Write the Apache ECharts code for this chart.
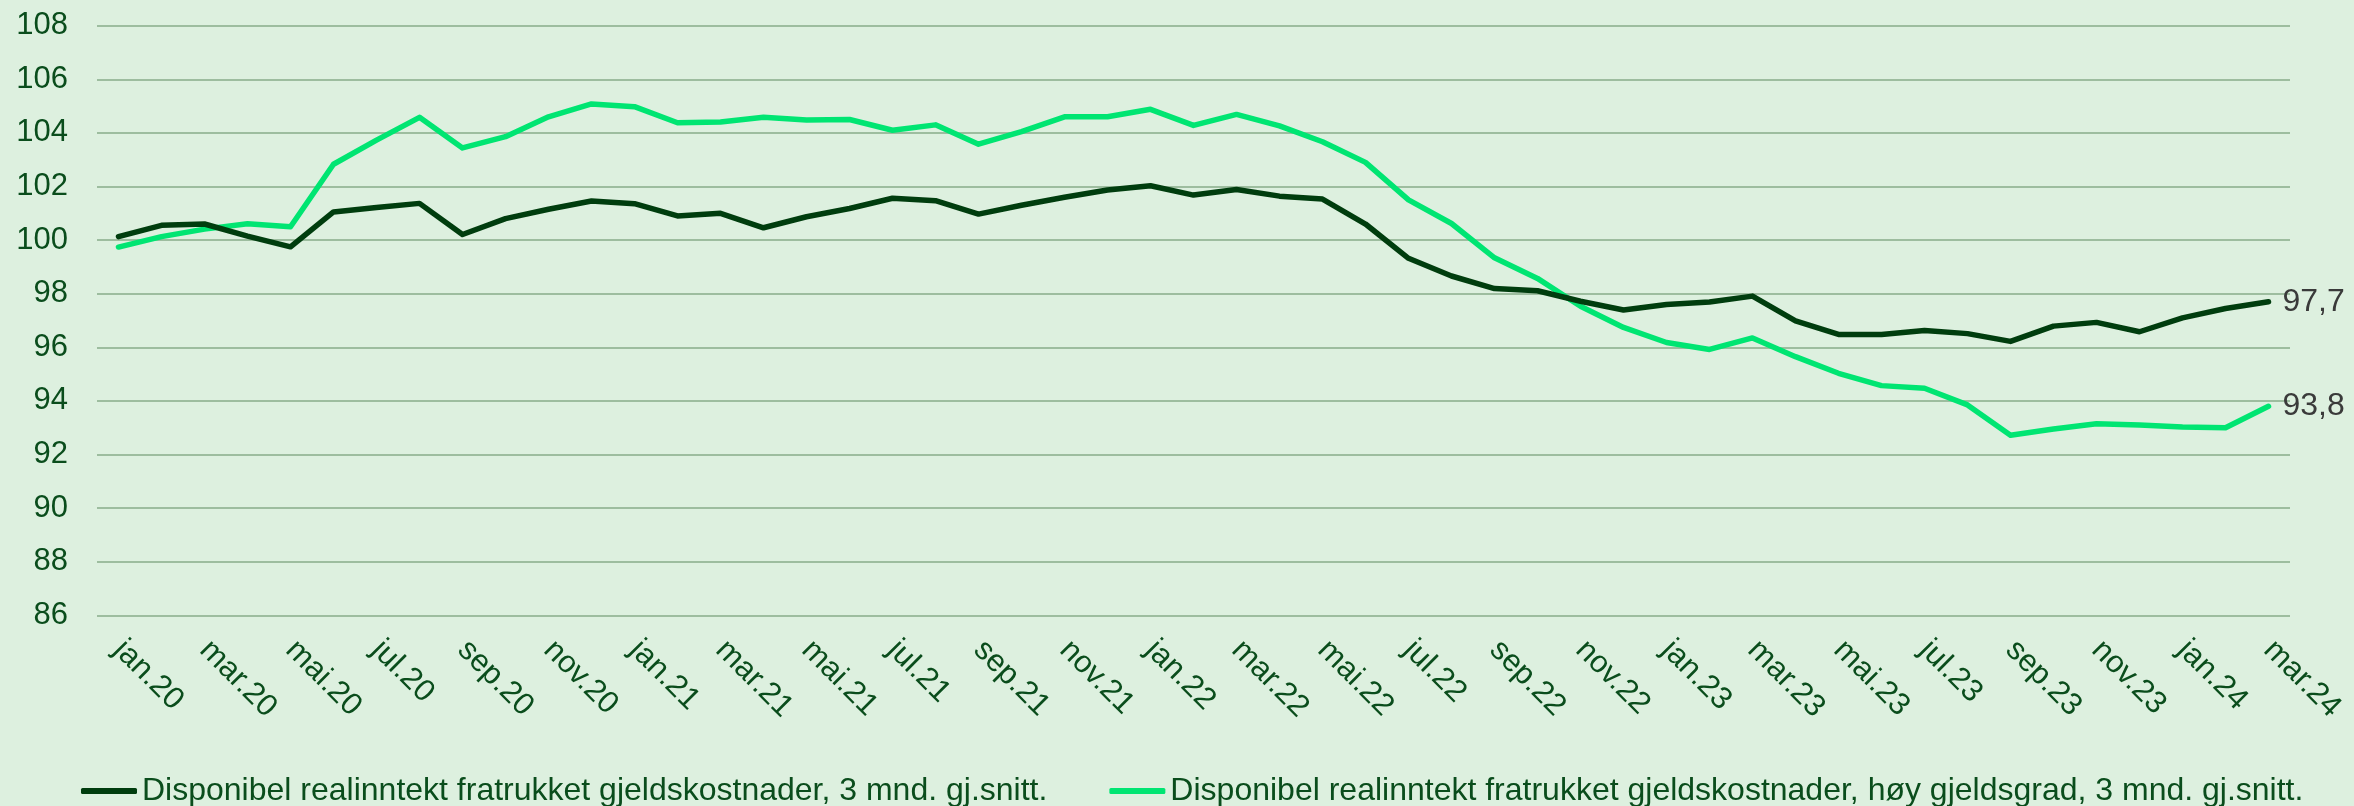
<!DOCTYPE html>
<html>
<head>
<meta charset="utf-8">
<script src="https://cdn.jsdelivr.net/npm/echarts@6/dist/echarts.min.js"></script>
<style>
html,body{margin:0;padding:0;background:#ddf0df;}
#chart{width:2354px;height:806px;}
</style>
</head>
<body>
<div id="chart"></div>
<script>
const categories = [
 'jan.20','feb.20','mar.20','apr.20','mai.20','jun.20','jul.20','aug.20','sep.20','okt.20','nov.20','des.20',
 'jan.21','feb.21','mar.21','apr.21','mai.21','jun.21','jul.21','aug.21','sep.21','okt.21','nov.21','des.21',
 'jan.22','feb.22','mar.22','apr.22','mai.22','jun.22','jul.22','aug.22','sep.22','okt.22','nov.22','des.22',
 'jan.23','feb.23','mar.23','apr.23','mai.23','jun.23','jul.23','aug.23','sep.23','okt.23','nov.23','des.23',
 'jan.24','feb.24','mar.24'
];
const seriesNames = [
 'Disponibel realinntekt fratrukket gjeldskostnader, 3 mnd. gj.snitt.',
 'Disponibel realinntekt fratrukket gjeldskostnader, høy gjeldsgrad, 3 mnd. gj.snitt.'
];
const dispAll = [
 100.13,100.55,100.6,100.15,99.75,101.05,101.22,101.37,100.21,100.8,101.15,101.46,
 101.36,100.9,101.0,100.46,100.87,101.18,101.56,101.47,100.97,101.3,101.6,101.87,
 102.03,101.68,101.89,101.64,101.53,100.6,99.32,98.66,98.19,98.11,97.72,97.39,
 97.6,97.69,97.91,96.99,96.48,96.48,96.63,96.51,96.22,96.79,96.93,96.58,
 97.1,97.45,97.7
];
const dispHigh = [
 99.74,100.13,100.41,100.61,100.5,102.83,103.73,104.58,103.44,103.86,104.6,105.08,
 104.98,104.38,104.41,104.58,104.48,104.5,104.1,104.3,103.58,104.05,104.6,104.6,
 104.88,104.28,104.69,104.26,103.67,102.9,101.5,100.62,99.34,98.57,97.53,96.74,
 96.18,95.92,96.35,95.65,95.03,94.57,94.47,93.85,92.72,92.95,93.15,93.1,
 93.03,93.0,93.8
];
const yMin = 86, yMax = 108, yStep = 2;

const textColor = '#0a4d1c';
const font = 'Liberation Sans, Arial, sans-serif';

function endLabel(){
  return {
    show: true, distance: 14,
    fontSize: 32, fontFamily: font, color: '#3a3a3a',
    formatter: p => String(p.value).replace('.', ',')
  };
}

const chart = echarts.init(document.getElementById('chart'), null, {renderer:'canvas'});
chart.setOption({
  backgroundColor: '#ddf0df',
  animation: false,
  grid: {left: 97, right: 64, top: 25.7, bottom: 190.7, containLabel: false},
  legend: {
    left: 76, top: 770,
    itemWidth: 56, itemHeight: 6, itemGap: 62,
    icon: 'roundRect',
    textStyle: {fontSize: 32, fontFamily: font, color: textColor},
    data: seriesNames
  },
  xAxis: {
    type: 'category',
    data: categories,
    boundaryGap: true,
    axisLine: {show: false},
    axisTick: {show: false},
    axisLabel: {
      interval: 1, rotate: -45, margin: 30,
      fontSize: 31, fontFamily: font, color: textColor
    },
    splitLine: {show: false}
  },
  yAxis: {
    type: 'value', min: yMin, max: yMax, interval: yStep,
    axisLine: {show: false}, axisTick: {show: false},
    axisLabel: {fontSize: 31, fontFamily: font, color: textColor, margin: 29},
    splitLine: {lineStyle: {color: '#9dbd9f', width: 2}}
  },
  series: [
    {
      name: seriesNames[0], type: 'line', data: dispAll,
      symbol: 'none',
      lineStyle: {color: '#003d0e', width: 5.5, cap: 'round', join: 'round'},
      itemStyle: {color: '#003d0e'},
      endLabel: endLabel(), z: 3
    },
    {
      name: seriesNames[1], type: 'line', data: dispHigh,
      symbol: 'none',
      lineStyle: {color: '#00e572', width: 5.5, cap: 'round', join: 'round'},
      itemStyle: {color: '#00e572'},
      endLabel: endLabel(), z: 2
    }
  ]
});
</script>
</body>
</html>
